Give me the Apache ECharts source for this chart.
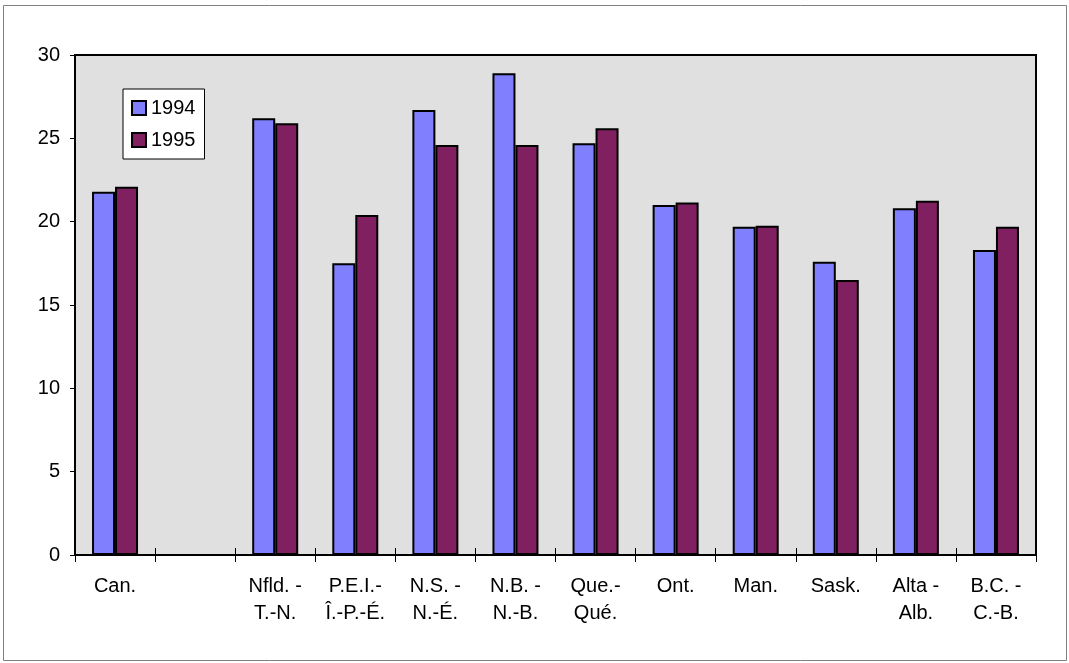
<!DOCTYPE html>
<html>
<head>
<meta charset="utf-8">
<script src="https://cdn.jsdelivr.net/npm/echarts@6/dist/echarts.min.js"></script>
<style>
html,body{margin:0;padding:0;background:#fff;}
#chart{width:1069px;height:663px;}
</style>
</head>
<body>
<div id="chart"></div>
<script>
var categories = ['Can.', '', 'Nfld. -\nT.-N.', 'P.E.I.-\nÎ.-P.-É.', 'N.S. -\nN.-É.', 'N.B. -\nN.-B.', 'Que.-\nQué.', 'Ont.', 'Man.', 'Sask.', 'Alta -\nAlb.', 'B.C. -\nC.-B.'];
var values1994 = [21.8, null, 26.2, 17.5, 26.7, 28.9, 24.7, 21.0, 19.7, 17.6, 20.8, 18.3];
var values1995 = [22.1, null, 25.9, 20.4, 24.6, 24.6, 25.6, 21.15, 19.75, 16.5, 21.25, 19.7];
var seriesNames = ['1994', '1995'];
var yTicks = {min: 0, max: 30, interval: 5};

var FONT = '"Liberation Sans", Arial, sans-serif';
var chart = echarts.init(document.getElementById('chart'), null, {renderer: 'canvas'});
chart.setOption({
  animation: false,
  textStyle: {fontFamily: FONT},
  graphic: [{
    type: 'rect',
    shape: {x: 3.5, y: 5.5, width: 1063, height: 655},
    style: {fill: 'none', stroke: '#808080', lineWidth: 1},
    silent: true,
    z: -10
  }],
  grid: {
    left: 75, top: 55, right: 33, bottom: 108,
    show: true, backgroundColor: '#e0e0e0', borderColor: '#000', borderWidth: 2
  },
  legend: {
    orient: 'vertical',
    left: 123, top: 89,
    data: seriesNames,
    backgroundColor: '#fff',
    borderColor: '#000',
    borderWidth: 1,
    padding: [9, 9, 9, 8],
    itemGap: 12,
    itemWidth: 14, itemHeight: 14,
    icon: 'rect',
    textStyle: {fontFamily: FONT, fontSize: 20, color: '#000'},
    itemStyle: {borderColor: '#000', borderWidth: 2}
  },
  xAxis: [{
    type: 'category',
    data: categories,
    axisLine: {lineStyle: {color: '#000', width: 2}},
    axisTick: {show: true, interval: 0, length: 7, lineStyle: {color: '#000'}},
    axisLabel: {interval: 0, fontFamily: FONT, fontSize: 20, color: '#000', lineHeight: 27, margin: 18}
  }, {
    type: 'category',
    data: categories,
    position: 'bottom',
    axisLine: {show: false},
    axisTick: {show: true, inside: true, interval: 0, length: 7, lineStyle: {color: '#000'}},
    axisLabel: {show: false}
  }],
  yAxis: {
    type: 'value',
    min: yTicks.min, max: yTicks.max, interval: yTicks.interval,
    axisLine: {show: true, lineStyle: {color: '#000', width: 2}},
    axisTick: {show: true, length: 5, lineStyle: {color: '#000'}},
    splitLine: {show: false},
    axisLabel: {fontFamily: FONT, fontSize: 20, color: '#000', margin: 15}
  },
  series: [{
    name: seriesNames[0], type: 'bar', data: values1994,
    barWidth: 23, barGap: '0%',
    itemStyle: {color: '#8080ff', borderColor: '#000', borderWidth: 2}
  }, {
    name: seriesNames[1], type: 'bar', data: values1995,
    barWidth: 23, barGap: '0%',
    itemStyle: {color: '#802060', borderColor: '#000', borderWidth: 2}
  }]
});
</script>
</body>
</html>
